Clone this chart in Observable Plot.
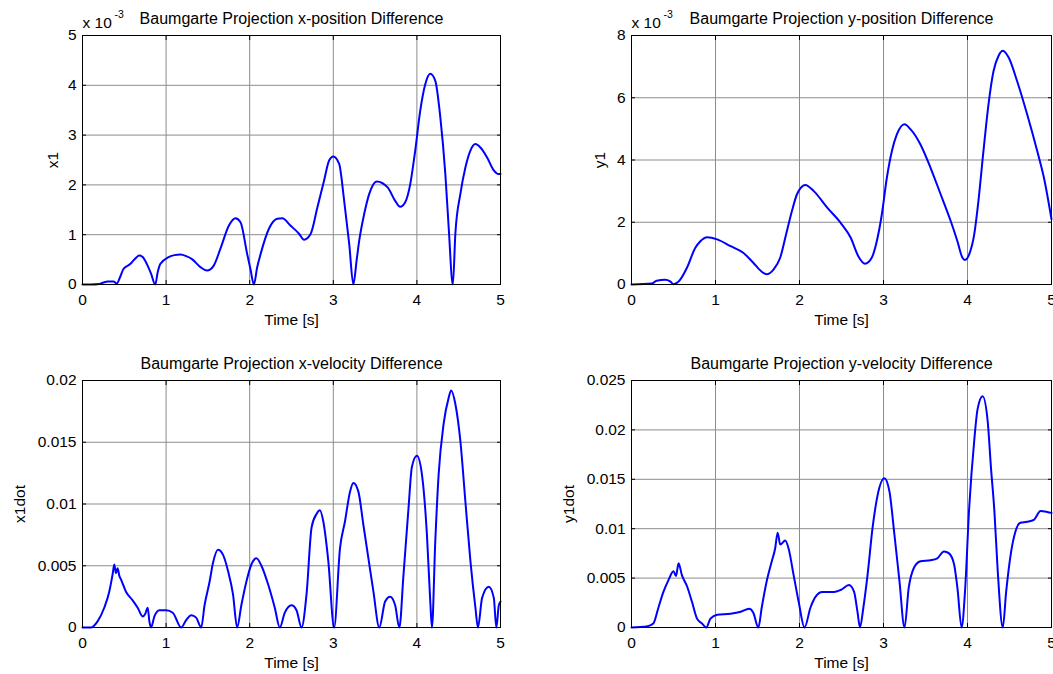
<!DOCTYPE html>
<html><head><meta charset="utf-8">
<script src="https://cdn.jsdelivr.net/npm/d3@7"></script>
<script src="https://cdn.jsdelivr.net/npm/@observablehq/plot@0.6"></script>
<style>
body{margin:0;background:#fff;}
#wrap{position:relative;width:1053px;height:674px;background:#fff;overflow:hidden;}
.panel{position:absolute;}
</style></head><body><div id="wrap"></div>
<script>
const FONT = '"Liberation Sans", Arial, Helvetica, sans-serif';
const timeTicks = [0, 1, 2, 3, 4, 5];
const timeLabel = "Time [s]";

// Panel 1: x-position difference (values in units of 1e-3)
const title1 = "Baumgarte Projection x-position Difference";
const ylabel1 = "x1";
const yTicks1 = [0, 1, 2, 3, 4, 5];
const yTickLabels1 = ["0", "1", "2", "3", "4", "5"];
const t1 = [0, 0.1, 0.2, 0.25, 0.3, 0.37, 0.41, 0.45, 0.49, 0.57,
  0.62, 0.68, 0.72, 0.77, 0.82, 0.87, 0.9, 0.93, 1.03, 1.1,
  1.17, 1.24, 1.31, 1.41, 1.49, 1.57, 1.65, 1.75, 1.83, 1.89,
  1.97, 2.01, 2.05, 2.09, 2.13, 2.23, 2.33, 2.39, 2.49, 2.59,
  2.65, 2.73, 2.81, 2.89, 2.95, 3.0, 3.07, 3.13, 3.19, 3.24,
  3.28, 3.31, 3.37, 3.43, 3.52, 3.65, 3.74, 3.8, 3.86, 3.92,
  3.98, 4.04, 4.1, 4.16, 4.22, 4.28, 4.34, 4.38, 4.43, 4.46,
  4.52, 4.58, 4.64, 4.7, 4.76, 4.84, 4.92, 4.97, 5.0];
const v1 = [0, 0, 0.01, 0.04, 0.06, 0.06, 0.02, 0.15, 0.31, 0.41,
  0.5, 0.58, 0.55, 0.41, 0.22, 0, 0.25, 0.41, 0.55, 0.59,
  0.6, 0.57, 0.51, 0.35, 0.28, 0.38, 0.72, 1.18, 1.33, 1.25,
  0.61, 0.3, 0, 0.35, 0.61, 1.12, 1.32, 1.33, 1.18, 1.02,
  0.9, 1.02, 1.55, 2.09, 2.49, 2.57, 2.42, 1.68, 0.82, 0,
  0.5, 0.88, 1.42, 1.82, 2.07, 1.95, 1.68, 1.56, 1.65, 2.01,
  2.69, 3.49, 4.02, 4.23, 4.09, 3.36, 2.22, 1.15, 0, 1.02,
  1.82, 2.35, 2.69, 2.82, 2.75, 2.55, 2.29, 2.22, 2.22];

// Panel 2: y-position difference (values in units of 1e-3)
const title2 = "Baumgarte Projection y-position Difference";
const ylabel2 = "y1";
const yTicks2 = [0, 2, 4, 6, 8];
const yTickLabels2 = ["0", "2", "4", "6", "8"];
const t2 = [0, 0.24, 0.3, 0.4, 0.46, 0.5, 0.54, 0.58, 0.66, 0.76,
  0.82, 0.9, 1.02, 1.18, 1.33, 1.45, 1.55, 1.61, 1.69, 1.77,
  1.85, 1.91, 1.97, 2.07, 2.17, 2.33, 2.49, 2.61, 2.7, 2.78,
  2.86, 2.92, 2.98, 3.04, 3.1, 3.16, 3.25, 3.32, 3.44, 3.56,
  3.68, 3.8, 3.88, 3.94, 3.97, 4.02, 4.08, 4.13, 4.19, 4.25,
  4.31, 4.37, 4.42, 4.49, 4.59, 4.71, 4.83, 4.91, 5.0];
const v2 = [0, 0.03, 0.12, 0.15, 0.1, 0.01, 0.05, 0.16, 0.54, 1.18,
  1.39, 1.52, 1.45, 1.23, 1.02, 0.7, 0.41, 0.33, 0.48, 0.86,
  1.72, 2.36, 2.9, 3.2, 3.0, 2.47, 1.98, 1.5, 0.91, 0.67,
  0.86, 1.39, 2.25, 3.43, 4.29, 4.83, 5.15, 4.99, 4.5, 3.75,
  2.9, 2.04, 1.39, 0.86, 0.79, 0.97, 1.61, 2.68, 4.29, 5.79,
  6.86, 7.35, 7.51, 7.29, 6.54, 5.47, 4.29, 3.43, 2.1];

// Panel 3: x-velocity difference
const title3 = "Baumgarte Projection x-velocity Difference";
const ylabel3 = "x1dot";
const yTicks3 = [0, 0.005, 0.01, 0.015, 0.02];
const yTickLabels3 = ["0", "0.005", "0.01", "0.015", "0.02"];
const t3 = [0, 0.1, 0.18, 0.26, 0.32, 0.36, 0.38, 0.4, 0.42, 0.44,
  0.46, 0.52, 0.6, 0.66, 0.72, 0.75, 0.78, 0.8, 0.82, 0.86,
  0.92, 1.0, 1.08, 1.18, 1.24, 1.3, 1.36, 1.42, 1.46, 1.52,
  1.56, 1.62, 1.68, 1.74, 1.8, 1.85, 1.9, 1.96, 2.02, 2.08,
  2.14, 2.22, 2.3, 2.36, 2.42, 2.5, 2.56, 2.62, 2.68, 2.74,
  2.8, 2.84, 2.88, 2.94, 3.01, 3.08, 3.14, 3.2, 3.24, 3.3,
  3.36, 3.42, 3.48, 3.55, 3.62, 3.68, 3.74, 3.79, 3.84, 3.9,
  3.94, 4.0, 4.06, 4.12, 4.16, 4.18, 4.22, 4.26, 4.32, 4.38,
  4.41, 4.46, 4.52, 4.58, 4.64, 4.7, 4.73, 4.78, 4.86, 4.92,
  4.95, 4.98, 5.0];
const v3 = [0, 0, 0.0005, 0.0016, 0.0029, 0.0043, 0.0051, 0.0044, 0.0048, 0.0042,
  0.0039, 0.0029, 0.0022, 0.0016, 0.0009, 0.0011, 0.0016, 0.0005, 0, 0.0009,
  0.0014, 0.0014, 0.0012, 0, 0.0006, 0.001, 0.0008, 0, 0.0018, 0.0037,
  0.0052, 0.0063, 0.0059, 0.0046, 0.0027, 0, 0.0018, 0.0037, 0.0051, 0.0056,
  0.005, 0.0035, 0.0016, 0, 0.0012, 0.0018, 0.0014, 0, 0.0027, 0.0081,
  0.0092, 0.0095, 0.0086, 0.0054, 0, 0.0064, 0.0086, 0.011, 0.0117, 0.011,
  0.0083, 0.0056, 0.0029, 0, 0.0021, 0.0025, 0.0018, 0, 0.0043, 0.0097,
  0.013, 0.0139, 0.0124, 0.0075, 0.0021, 0, 0.007, 0.0124, 0.0165, 0.0186,
  0.0192, 0.0181, 0.0151, 0.0102, 0.0054, 0.0016, 0, 0.0024, 0.0033, 0.0024,
  0, 0.0018, 0.0021];

// Panel 4: y-velocity difference
const title4 = "Baumgarte Projection y-velocity Difference";
const ylabel4 = "y1dot";
const yTicks4 = [0, 0.005, 0.01, 0.015, 0.02, 0.025];
const yTickLabels4 = ["0", "0.005", "0.01", "0.015", "0.02", "0.025"];
const t4 = [0, 0.18, 0.26, 0.32, 0.38, 0.44, 0.5, 0.53, 0.56, 0.6,
  0.66, 0.72, 0.78, 0.84, 0.89, 0.94, 1.02, 1.18, 1.3, 1.4,
  1.45, 1.51, 1.55, 1.61, 1.67, 1.71, 1.74, 1.77, 1.83, 1.87,
  1.93, 1.99, 2.06, 2.13, 2.19, 2.27, 2.41, 2.49, 2.59, 2.65,
  2.69, 2.72, 2.76, 2.81, 2.87, 2.93, 3.01, 3.07, 3.13, 3.19,
  3.25, 3.3, 3.36, 3.44, 3.56, 3.64, 3.72, 3.78, 3.84, 3.88,
  3.93, 3.97, 4.02, 4.08, 4.12, 4.18, 4.24, 4.28, 4.32, 4.36,
  4.42, 4.46, 4.52, 4.57, 4.63, 4.71, 4.79, 4.87, 4.95, 5.0];
const v4 = [0, 0.0001, 0.0004, 0.002, 0.0036, 0.0048, 0.0057, 0.0052, 0.0065, 0.0053,
  0.0042, 0.0026, 0.0009, 0.0004, 0, 0.0009, 0.0013, 0.0014, 0.0016, 0.0019,
  0.0015, 0, 0.002, 0.0047, 0.0067, 0.008, 0.0096, 0.0084, 0.0088, 0.008,
  0.0053, 0.0026, 0, 0.002, 0.0031, 0.0036, 0.0036, 0.0038, 0.0043, 0.0036,
  0.0016, 0, 0.002, 0.0053, 0.0101, 0.0134, 0.0151, 0.0138, 0.0094, 0.0047,
  0, 0.004, 0.006, 0.0067, 0.0068, 0.007, 0.0077, 0.0075, 0.0064, 0.004,
  0, 0.0036, 0.0121, 0.0189, 0.0221, 0.0234, 0.0209, 0.0161, 0.0118, 0.0057,
  0, 0.0036, 0.0077, 0.0097, 0.0106, 0.0107, 0.0109, 0.0118, 0.0117, 0.0116];

const exponentBase = "x 10";
const exponentPower = "-3";

function panel(cfg) {
  const data = cfg.t.map((t, i) => ({t, v: cfg.v[i]}));
  const fmt = d => cfg.labels[cfg.ticks.indexOf(d)] ?? "";
  const grid = {stroke: "#8c8c8c", strokeOpacity: 1, strokeWidth: 1};
  const marks = [
    Plot.gridX(timeTicks.slice(1, -1), grid),
    Plot.gridY(cfg.ticks.slice(1, -1), grid),
    Plot.line(data, {x: "t", y: "v", stroke: "#0000ff", strokeWidth: 2, curve: "monotone-x"}),
    Plot.frame({stroke: "#000", strokeWidth: 1}),
    Plot.axisX(timeTicks, {anchor: "bottom", tickSize: -4, tickPadding: 13, label: timeLabel, labelAnchor: "center", labelOffset: 40, labelArrow: "none", fontSize: 15.5}),
    Plot.axisX(timeTicks, {anchor: "top", tickSize: -4, tickFormat: () => "", label: null}),
    Plot.axisY(cfg.ticks, {anchor: "left", tickSize: -4, tickPadding: 10, tickFormat: fmt, label: cfg.ylabel, labelAnchor: "center", labelOffset: cfg.labelOffset, labelArrow: "none", fontSize: 15.5}),
    Plot.axisY(cfg.ticks, {anchor: "right", tickSize: -4, tickFormat: () => "", label: null}),
    Plot.text([cfg.title], {text: d => d, frameAnchor: "top", lineAnchor: "bottom", dy: -12, fontSize: 16})
  ];
  if (cfg.exponent) {
    marks.push(Plot.text([exponentBase], {text: d => d, frameAnchor: "top-left", textAnchor: "start", lineAnchor: "bottom", dy: -8, fontSize: 15.5}));
    marks.push(Plot.text([exponentPower], {text: d => d, frameAnchor: "top-left", textAnchor: "start", lineAnchor: "bottom", dx: 32, dy: -18, fontSize: 10.5}));
  }
  const svg = Plot.plot({
    width: cfg.width, height: cfg.height,
    marginLeft: cfg.ml, marginRight: cfg.mr, marginTop: cfg.mt, marginBottom: cfg.mb,
    x: {domain: [0, 5]},
    y: {domain: [cfg.ticks[0], cfg.ticks[cfg.ticks.length - 1]]},
    style: {fontFamily: FONT, fontSize: "15.5px", color: "#000", background: "transparent", overflow: "visible"},
    marks
  });
  const div = document.createElement("div");
  div.className = "panel";
  div.style.left = cfg.left + "px";
  div.style.top = cfg.top + "px";
  div.appendChild(svg);
  document.getElementById("wrap").appendChild(div);
}

panel({t: t1, v: v1, ticks: yTicks1, labels: yTickLabels1, ylabel: ylabel1, title: title1, exponent: true,
  left: 0, top: 0, width: 526, height: 337, ml: 82, mr: 26, mt: 35, mb: 53, labelOffset: 36});
panel({t: t2, v: v2, ticks: yTicks2, labels: yTickLabels2, ylabel: ylabel2, title: title2, exponent: true,
  left: 526, top: 0, width: 527, height: 337, ml: 105, mr: 2, mt: 35, mb: 53, labelOffset: 38});
panel({t: t3, v: v3, ticks: yTicks3, labels: yTickLabels3, ylabel: ylabel3, title: title3, exponent: false,
  left: 0, top: 337, width: 526, height: 337, ml: 82, mr: 26, mt: 43, mb: 47, labelOffset: 69});
panel({t: t4, v: v4, ticks: yTicks4, labels: yTickLabels4, ylabel: ylabel4, title: title4, exponent: false,
  left: 526, top: 337, width: 527, height: 337, ml: 105, mr: 2, mt: 43, mb: 47, labelOffset: 69});
</script></body></html>
